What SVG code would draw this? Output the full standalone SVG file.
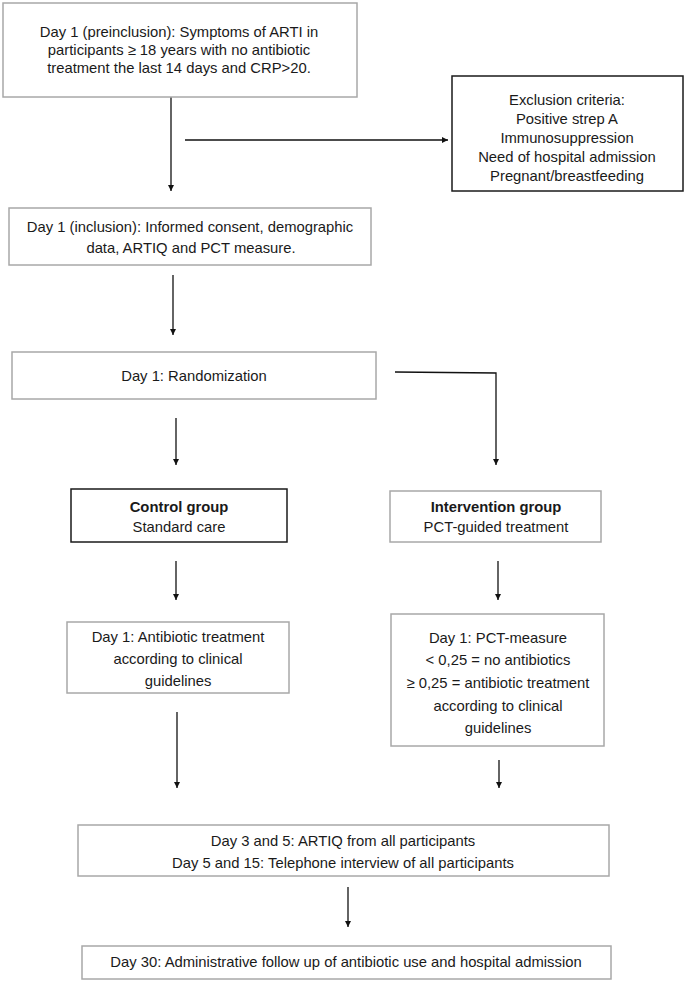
<svg xmlns="http://www.w3.org/2000/svg" width="685" height="984" viewBox="0 0 685 984">
<defs>
<marker id="ah" viewBox="0 0 10 10" refX="10" refY="5" markerWidth="6" markerHeight="6" markerUnits="userSpaceOnUse" orient="auto">
<path d="M0,0 L10,5 L0,10 z" fill="#111"/>
</marker>
<style>
.g{fill:#fff;stroke:#a8a8a8;stroke-width:1.5}
.k{fill:#fff;stroke:#1a1a1a;stroke-width:1.5}
text{font-family:"Liberation Sans",Arial,sans-serif;font-size:14.8px;fill:#1a1a1a;text-anchor:middle}
.b{font-weight:bold}
.c{fill:none;stroke:#111;stroke-width:1.3}
</style>
</defs>
<rect width="685" height="984" fill="#fff"/>
<g id="connectors">
<line class="c" x1="171" y1="97" x2="171" y2="191" marker-end="url(#ah)"/>
<line class="c" x1="185" y1="140" x2="448" y2="140" marker-end="url(#ah)"/>
<line class="c" x1="173" y1="275" x2="173" y2="335" marker-end="url(#ah)"/>
<polyline class="c" points="395,372 496,373 496,465" marker-end="url(#ah)"/>
<line class="c" x1="176" y1="418" x2="176" y2="465" marker-end="url(#ah)"/>
<line class="c" x1="176" y1="561" x2="176" y2="600" marker-end="url(#ah)"/>
<line class="c" x1="498" y1="561" x2="498" y2="600" marker-end="url(#ah)"/>
<line class="c" x1="177" y1="712" x2="177" y2="788" marker-end="url(#ah)"/>
<line class="c" x1="499" y1="760" x2="499" y2="788" marker-end="url(#ah)"/>
<line class="c" x1="348" y1="887" x2="348" y2="927" marker-end="url(#ah)"/>
</g>
<g id="preinclusion">
<rect class="g" x="3" y="3" width="354" height="94"/>
<text x="179" y="37">Day 1 (preinclusion): Symptoms of ARTI in</text>
<text x="179" y="55">participants ≥ 18 years with no antibiotic</text>
<text x="179" y="73">treatment the last 14 days and CRP&gt;20.</text>
</g>
<g id="exclusion">
<rect class="k" x="452" y="76" width="231" height="115"/>
<text x="567" y="105">Exclusion criteria:</text>
<text x="567" y="124">Positive strep A</text>
<text x="567" y="143">Immunosuppression</text>
<text x="567" y="162">Need of hospital admission</text>
<text x="567" y="181">Pregnant/breastfeeding</text>
</g>
<g id="inclusion">
<rect class="g" x="9" y="208" width="362" height="57"/>
<text x="190" y="232">Day 1 (inclusion): Informed consent, demographic</text>
<text x="191" y="253">data, ARTIQ and PCT measure.</text>
</g>
<g id="randomization">
<rect class="g" x="12" y="352" width="364" height="47"/>
<text x="194" y="381">Day 1: Randomization</text>
</g>
<g id="control">
<rect class="k" x="71" y="489" width="216" height="53"/>
<text class="b" x="179" y="512">Control group</text>
<text x="179" y="532">Standard care</text>
</g>
<g id="intervention">
<rect class="g" x="390" y="491" width="211" height="51"/>
<text class="b" x="496" y="512">Intervention group</text>
<text x="496" y="532">PCT-guided treatment</text>
</g>
<g id="control-treatment">
<rect class="g" x="67" y="622" width="222" height="71"/>
<text x="178" y="642">Day 1: Antibiotic treatment</text>
<text x="178" y="664">according to clinical</text>
<text x="178" y="686">guidelines</text>
</g>
<g id="pct-treatment">
<rect class="g" x="391" y="614" width="213" height="132"/>
<text x="498" y="643">Day 1: PCT-measure</text>
<text x="498" y="665">&lt; 0,25 = no antibiotics</text>
<text x="498" y="688">≥ 0,25 = antibiotic treatment</text>
<text x="498" y="711">according to clinical</text>
<text x="498" y="733">guidelines</text>
</g>
<g id="followup">
<rect class="g" x="78" y="825" width="531" height="51"/>
<text x="343" y="846">Day 3 and 5: ARTIQ from all participants</text>
<text x="343" y="868">Day 5 and 15: Telephone interview of all participants</text>
</g>
<g id="day30">
<rect class="g" x="82" y="946" width="529" height="33"/>
<text x="346" y="967">Day 30: Administrative follow up of antibiotic use and hospital admission</text>
</g>
</svg>
